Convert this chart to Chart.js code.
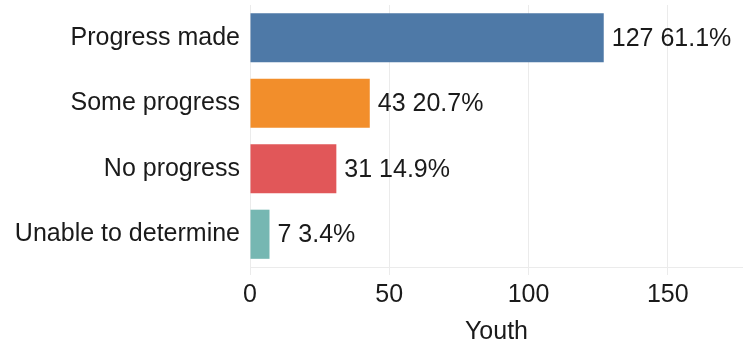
<!DOCTYPE html>
<html>
<head>
<meta charset="utf-8">
<script src="https://cdn.jsdelivr.net/npm/chart.js@4/dist/chart.umd.min.js"></script>
<style>
  html, body { margin: 0; padding: 0; background: #fff; }
  #wrap { width: 743px; height: 341px; }
</style>
</head>
<body>
<div id="wrap"><canvas id="grafico"></canvas></div>
<script>
// Dados
const categorias = ['Progress made', 'Some progress', 'No progress', 'Unable to determine'];
const contagens = [127, 43, 31, 7];
const percentagens = [61.1, 20.7, 14.9, 3.4];
const cores = ['#4E79A7', '#F28E2B', '#E15759', '#76B7B2'];
const ticksX = [0, 50, 100, 150];
const tituloX = 'Youth';

const fonte = '"Liberation Sans", Arial, sans-serif';
const corTexto = '#1a1a1a';

// Rótulos "contagem percentagem" à direita de cada barra
const rotulosBarras = {
  id: 'rotulosBarras',
  afterDatasetsDraw(chart) {
    const ctx = chart.ctx;
    const meta = chart.getDatasetMeta(0);
    ctx.save();
    ctx.font = '25px ' + fonte;
    ctx.fillStyle = corTexto;
    ctx.textAlign = 'left';
    ctx.textBaseline = 'middle';
    meta.data.forEach((barra, i) => {
      ctx.fillText(contagens[i] + ' ' + percentagens[i].toFixed(1) + '%', barra.x + 8, barra.y + 1);
    });
    ctx.restore();
  }
};

new Chart(document.getElementById('grafico').getContext('2d'), {
  type: 'bar',
  data: {
    labels: categorias,
    datasets: [{
      data: contagens,
      backgroundColor: cores,
      borderWidth: 0,
      categoryPercentage: 1,
      barPercentage: 0.75
    }]
  },
  options: {
    indexAxis: 'y',
    responsive: true,
    maintainAspectRatio: false,
    animation: false,
    layout: { padding: { top: 5, right: 0, bottom: 0, left: 0 } },
    plugins: {
      legend: { display: false },
      tooltip: { enabled: false }
    },
    scales: {
      x: {
        min: 0,
        max: 177,
        afterBuildTicks: (eixo) => { eixo.ticks = ticksX.map(v => ({ value: v })); },
        afterFit: (eixo) => { eixo.height = 74; eixo.paddingLeft = 0; eixo.paddingRight = 0; },
        grid: { color: '#ebebeb', lineWidth: 1, drawTicks: true, tickLength: 8 },
        border: { display: true, color: '#ebebeb' },
        ticks: { font: { family: fonte, size: 25 }, color: corTexto, padding: 5, maxRotation: 0 },
        title: {
          display: true,
          text: tituloX,
          font: { family: fonte, size: 25, lineHeight: 1 },
          color: corTexto,
          padding: { top: 0, bottom: -4 }
        }
      },
      y: {
        afterFit: (eixo) => { eixo.width = 250; eixo.paddingTop = 0; eixo.paddingBottom = 0; },
        grid: { display: false, drawTicks: false },
        border: { display: false },
        ticks: { font: { family: fonte, size: 25 }, color: corTexto, padding: 10 }
      }
    }
  },
  plugins: [rotulosBarras]
});
</script>
</body>
</html>
